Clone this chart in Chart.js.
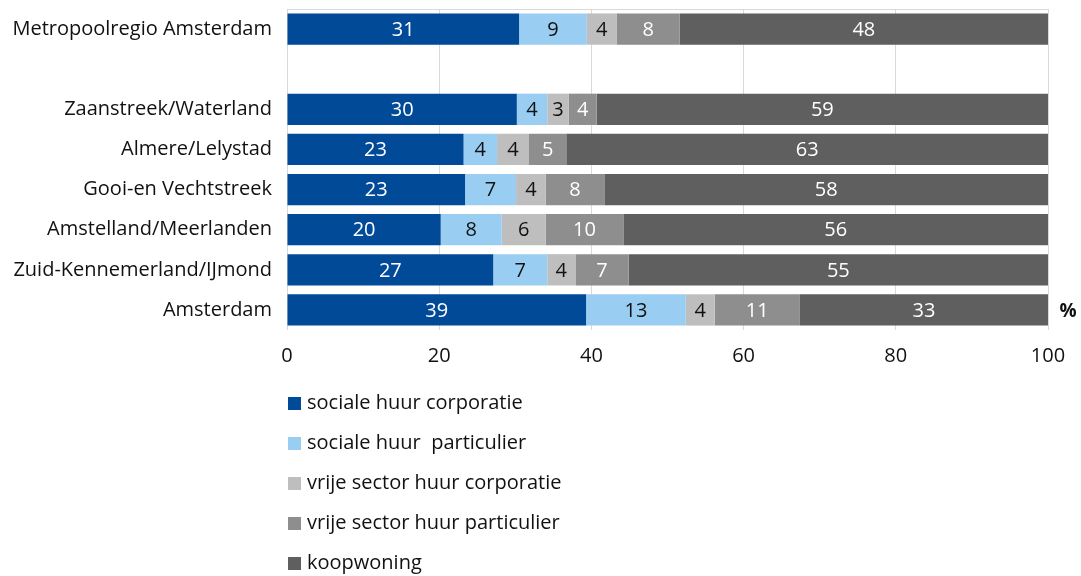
<!DOCTYPE html>
<html>
<head>
<meta charset="utf-8">
<script src="https://cdn.jsdelivr.net/npm/chart.js@4"></script>
<style>
  html, body { margin: 0; padding: 0; background: #fff; }
  #wrap { position: relative; width: 1081px; height: 576px; }
  #legend { position: absolute; left: 288px; top: 389px; font-family: "Open Sans", sans-serif; font-size: 20px; color: #111; }
  #legend div { height: 40px; line-height: 26px; white-space: pre; }
  #legend span { display: inline-block; width: 13px; height: 13px; margin-right: 6px; vertical-align: -1px; }
</style>
</head>
<body>
<div id="wrap">
  <canvas id="chart" width="1081" height="576"></canvas>
  <div id="legend"></div>
</div>
<script>
const categories = [
  'Metropoolregio Amsterdam', '',
  'Zaanstreek/Waterland', 'Almere/Lelystad', 'Gooi-en Vechtstreek',
  'Amstelland/Meerlanden', 'Zuid-Kennemerland/IJmond', 'Amsterdam'
];
const seriesNames = [
  'sociale huur corporatie', 'sociale huur  particulier',
  'vrije sector huur corporatie', 'vrije sector huur particulier', 'koopwoning'
];
const socialeCorp = [30.5, null, 30.2, 23.2, 23.4, 20.2, 27.1, 39.3];
const socialePart = [8.9, null, 4.0, 4.4, 6.7, 8.0, 7.1, 13.1];
const vrijeCorp   = [3.9, null, 2.8, 4.2, 3.9, 5.8, 3.7, 3.8];
const vrijePart   = [8.3, null, 3.7, 4.9, 7.7, 10.2, 7.0, 11.2];
const koop        = [48.4, null, 59.3, 63.3, 58.3, 55.8, 55.1, 32.6];
const xTicks = [0, 20, 40, 60, 80, 100];

const colors = ['#004A98', '#99CDF2', '#BEBEBE', '#8E8E8E', '#5F5F5F'];
const labelColors = ['#fff', '#111', '#111', '#fff', '#fff'];
const FONT = '"Open Sans", sans-serif';

const series = [socialeCorp, socialePart, vrijeCorp, vrijePart, koop];

// values in the middle of each segment, plus the % sign
const segmentLabels = {
  id: 'segmentLabels',
  afterDatasetsDraw(chart) {
    const ctx = chart.ctx;
    ctx.save();
    ctx.font = '20px ' + FONT;
    ctx.textAlign = 'center';
    ctx.textBaseline = 'middle';
    chart.data.datasets.forEach((ds, i) => {
      chart.getDatasetMeta(i).data.forEach((el, j) => {
        if (ds.data[j] == null) return;
        const p = el.getCenterPoint();
        ctx.fillStyle = labelColors[i];
        ctx.fillText(Math.round(ds.data[j]), p.x, p.y + 1);
      });
    });
    const y = chart.scales.y.getPixelForValue(categories.length - 1);
    ctx.font = 'bold 19px ' + FONT;
    ctx.fillStyle = '#111';
    ctx.fillText('%', chart.chartArea.right + 20, y + 2);
    ctx.restore();
  }
};

new Chart(document.getElementById('chart'), {
  type: 'bar',
  data: {
    labels: categories,
    datasets: series.map((d, i) => ({
      label: seriesNames[i],
      data: d,
      backgroundColor: colors[i],
      borderWidth: 0,
      barPercentage: 0.78,
      categoryPercentage: 1
    }))
  },
  options: {
    indexAxis: 'y',
    responsive: false,
    animation: false,
    layout: { padding: { top: 9, right: 33, bottom: 201, left: 0 } },
    plugins: { legend: { display: false }, tooltip: { enabled: false } },
    scales: {
      x: {
        stacked: true,
        min: 0, max: 100,
        afterBuildTicks: s => { s.ticks = xTicks.map(v => ({ value: v })); },
        afterFit: s => { s.height = 45; },
        grid: { color: '#D9D9D9', drawTicks: false },
        border: { display: false },
        ticks: { padding: 14, color: '#111', font: { family: FONT, size: 20 } }
      },
      y: {
        stacked: true,
        afterFit: s => { s.width = 287; s.paddingTop = 0; s.paddingBottom = 0; },
        grid: {
          drawTicks: false,
          color: c => (c.index === 0 || c.index === categories.length) ? '#D9D9D9' : 'rgba(0,0,0,0)'
        },
        border: { display: false },
        ticks: { padding: 15, color: '#111', font: { family: FONT, size: 20 } }
      }
    }
  },
  plugins: [segmentLabels]
});

const legend = document.getElementById('legend');
seriesNames.forEach((n, i) => {
  const row = document.createElement('div');
  const box = document.createElement('span');
  box.style.background = colors[i];
  row.appendChild(box);
  row.appendChild(document.createTextNode(n));
  legend.appendChild(row);
});
</script>
</body>
</html>
